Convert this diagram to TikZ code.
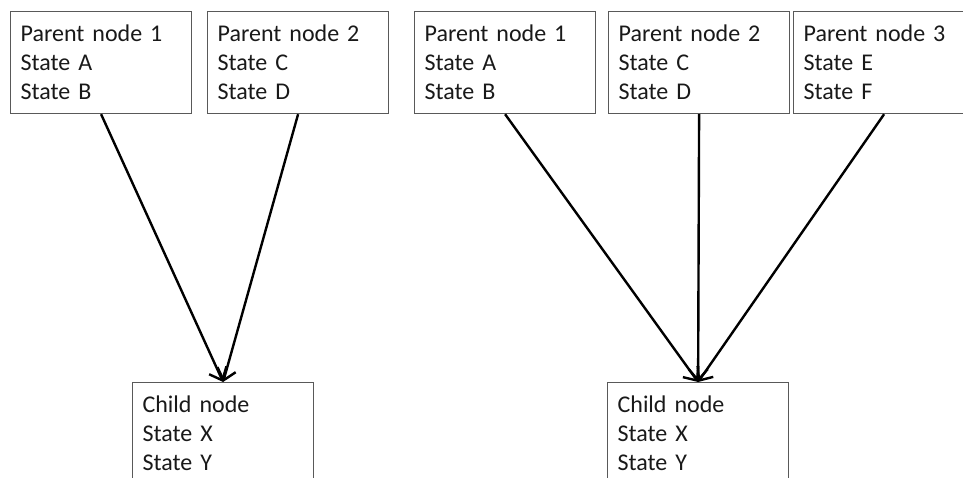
\documentclass[tikz,border=0pt]{standalone}
\usepackage{fontspec}
\setmainfont{Carlito}
\usetikzlibrary{arrows.meta}
\begin{document}
\begin{tikzpicture}[x=1pt, y=-1pt,
  box/.style={draw=black!65, line width=1.2pt, anchor=north west,
    minimum width=181pt, minimum height=102pt, text width=161pt,
    inner xsep=10pt, align=left, text=black!90,
    font=\fontsize{24pt}{29pt}\selectfont},
  link/.style={draw=black, line width=2.4pt,
    -{Straight Barb[length=11pt, width=19pt, line width=2.4pt]}}]
  \useasboundingbox (0,0) rectangle (963,478);
  \clip (0,0) rectangle (963,478);
  % two parents, one child
  \node[box] (p1) at (10,11) {Parent node 1\\State A\\State B};
  \node[box] (p2) at (207,11) {Parent node 2\\State C\\State D};
  \node[box] (c1) at (132,382) {Child node\\State X\\State Y};
  % three parents, one child
  \node[box] (q1) at (414,11) {Parent node 1\\State A\\State B};
  \node[box] (q2) at (608,11) {Parent node 2\\State C\\State D};
  \node[box] (q3) at (793,11) {Parent node 3\\State E\\State F};
  \node[box] (c2) at (607,382) {Child node\\State X\\State Y};
  % edges
  \draw[link] (p1.south) -- (c1.north);
  \draw[link] (p2.south) -- (c1.north);
  \draw[link] (q1.south) -- (c2.north);
  \draw[link] (q2.south) -- (c2.north);
  \draw[link] (q3.south) -- (c2.north);
\end{tikzpicture}
\end{document}
